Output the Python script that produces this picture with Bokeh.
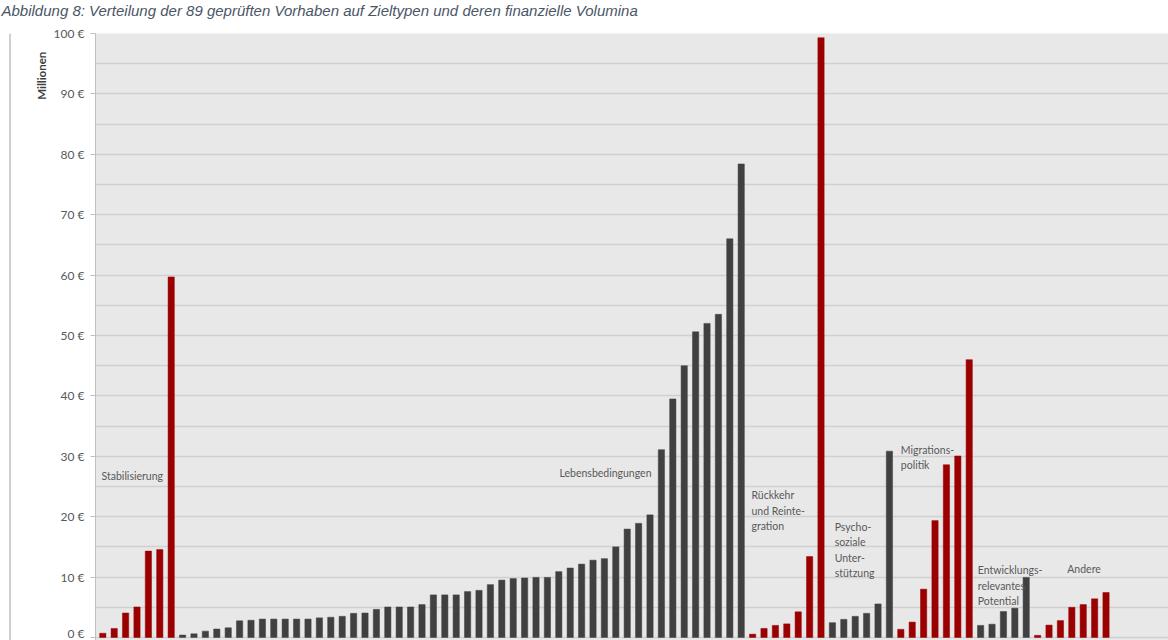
from bokeh.plotting import figure
from bokeh.layouts import column, row
from bokeh.models import Range1d, FixedTicker, PrintfTickFormatter, ColumnDataSource
from bokeh.core.properties import value
from bokeh.embed import file_html
from bokeh.resources import INLINE

title = "Abbildung 8: Verteilung der 89 geprüften Vorhaben auf Zieltypen und deren finanzielle Volumina"
y_label = "Millionen"

# Values in million EUR, per target type (sorted as in the picture)
stabilisierung = [0.7, 1.5, 4.05, 5.05, 14.3, 14.55, 59.7]
lebensbedingungen = [0.4, 0.6, 1.05, 1.4, 1.6, 2.75, 2.85, 3.05, 3.05, 3.05,
                     3.05, 3.05, 3.25, 3.35, 3.5, 4.0, 4.05, 4.65, 5.05, 5.05,
                     5.05, 5.45, 7.05, 7.05, 7.05, 7.6, 7.8, 8.75, 9.5, 9.75,
                     9.85, 9.95, 9.95, 10.9, 11.5, 12.15, 12.8, 13.05, 15.0, 17.95,
                     18.9, 20.3, 31.1, 39.5, 45.0, 50.6, 52.0, 53.5, 66.0, 78.4]
rueckkehr = [0.55, 1.5, 2.0, 2.25, 4.25, 13.4, 99.3]
psychosozial = [2.45, 3.0, 3.5, 4.0, 5.55, 30.85]
migrationspolitik = [1.35, 2.55, 8.0, 19.35, 28.6, 30.05, 46.0]
entwicklung = [2.0, 2.2, 4.3, 4.85, 9.95]
andere = [0.35, 2.05, 2.8, 5.0, 5.45, 6.4, 7.45]

group_labels = ["Stabilisierung", "Lebensbedingungen", "Rückkehr\nund Reinte-\ngration",
                "Psycho-\nsoziale\nUnter-\nstützung", "Migrations-\npolitik",
                "Entwicklungs-\nrelevantes\nPotential", "Andere"]

y_ticks = list(range(0, 101, 10))
y_minor = list(range(5, 100, 10))

RED = "#9B0000"
GRAY = "#404040"
groups = [(stabilisierung, RED), (lebensbedingungen, GRAY), (rueckkehr, RED),
          (psychosozial, GRAY), (migrationspolitik, RED), (entwicklung, GRAY), (andere, RED)]

xs, tops, colors = [], [], []
i = 0
for vals, col in groups:
    for v in vals:
        xs.append(i)
        tops.append(v)
        colors.append(col)
        i += 1

src = ColumnDataSource(dict(x=xs, top=tops, color=colors))

W, H = 1168, 640
TITLE_H = 22
LEFT_W = 49


def blank(width, height):
    f = figure(width=width, height=height, x_range=Range1d(0, width), y_range=Range1d(height, 0),
               output_backend="svg", toolbar_location=None, x_axis_location=None,
               y_axis_location=None, min_border=0)
    f.grid.visible = False
    f.outline_line_color = None
    f.background_fill_color = "white"
    f.border_fill_color = "white"
    return f


# title strip
t = blank(W, TITLE_H)
t.text(x=[1], y=[10], text=[title], text_font=value("Liberation Sans"), text_font_style="italic",
       text_font_size="15px", text_color="#4A5666", text_align="left", text_baseline="middle")

# left strip: frame border line and unit label
lf = blank(LEFT_W, H - TITLE_H)
lf.segment(x0=[9.5], y0=[0], x1=[9.5], y1=[H - TITLE_H], line_color="#A0A0A0", line_width=1)
lf.text(x=[41], y=[65 - TITLE_H], text=[y_label], angle=1.5708, text_font=value("Lato"),
        text_font_style="bold", text_font_size="11.5px", text_color="#404040",
        text_align="center", text_baseline="middle")

# main chart
p = figure(width=W - LEFT_W, height=H - TITLE_H, x_range=Range1d(-0.64, 93.48),
           y_range=Range1d(-0.5, 100), output_backend="svg", toolbar_location=None,
           x_axis_location=None, min_border_left=95 - LEFT_W, min_border_right=0,
           min_border_top=33 - TITLE_H, min_border_bottom=0)
p.background_fill_color = "#E8E8E8"
p.border_fill_color = "white"
p.outline_line_color = None
p.xgrid.visible = False

ticker = FixedTicker(ticks=y_ticks, minor_ticks=y_minor)
p.yaxis.ticker = ticker
p.ygrid.ticker = ticker
p.ygrid.grid_line_color = "#D0D0D0"
p.ygrid.grid_line_width = 1.3
p.ygrid.minor_grid_line_color = "#D0D0D0"
p.ygrid.minor_grid_line_width = 1.3
p.yaxis.formatter = PrintfTickFormatter(format="%d €")
p.yaxis.major_label_text_font = "Lato"
p.yaxis.major_label_text_font_size = "12px"
p.yaxis.major_label_text_color = "#595959"
p.yaxis.axis_line_color = "#BFBFBF"
p.yaxis.major_tick_line_color = "#BFBFBF"
p.yaxis.major_tick_out = 5
p.yaxis.major_tick_in = 0
p.yaxis.minor_tick_out = 0
p.yaxis.minor_tick_in = 0
p.yaxis.major_label_standoff = 6

p.vbar(x="x", top="top", bottom=0, width=0.55, fill_color="color", line_color="color",
       line_width=0.5, source=src)

# group labels
lab_x = [-0.11, 40.06, 56.9, 64.2, 70.0, 76.75, 84.6]
lab_y = [26.8, 27.2, 21.0, 14.5, 29.8, 8.6, 11.3]
p.text(x=lab_x, y=lab_y, text=group_labels, text_font=value("Lato"), text_font_size="10.5px",
       text_color="#595959", text_align="left", text_baseline="middle", text_line_height=1.3)

layout = column(t, row(lf, p, spacing=0), spacing=0)
open("out.html", "w").write(file_html(layout, INLINE))
